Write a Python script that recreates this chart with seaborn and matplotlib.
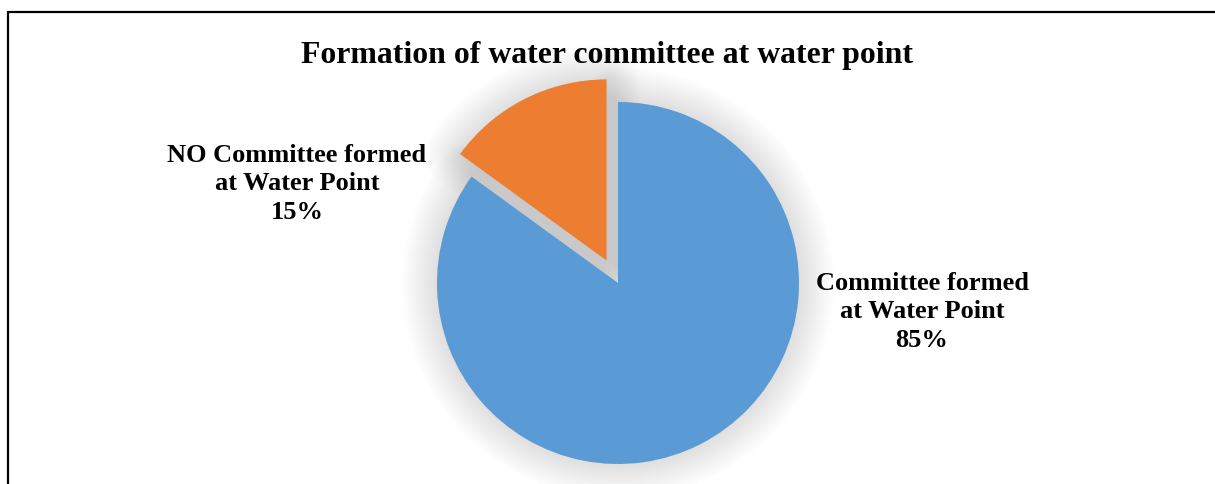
import numpy as np
import matplotlib
matplotlib.use("Agg")
import matplotlib.pyplot as plt
from matplotlib.lines import Line2D
import seaborn as sns

# Chart data
categories = ["Committee formed\nat Water Point", "NO Committee formed\nat Water Point"]
shares = [85, 15]
colors = ["#5B9BD5", "#ED7D31"]
explode = [0.0, 0.14]

sns.set_theme(style="white")
plt.rcParams["font.family"] = ["Liberation Serif", "DejaVu Serif"]

W, H = 1215, 484
fig = plt.figure(figsize=(W / 100, H / 100), dpi=100)
ax = fig.add_axes([0, 0, 1, 1])

# pie geometry in pixels
cx, cy, R = 618, 283, 181

# soft outer glow behind the slices
for lw in np.linspace(50, 2, 16):
    ax.pie(shares, startangle=90, counterclock=False, explode=explode,
           wedgeprops=dict(facecolor="none", edgecolor=(0, 0, 0, 0.008),
                           linewidth=lw, joinstyle="round"))
ax.pie(shares, startangle=90, counterclock=False, explode=explode,
       wedgeprops=dict(facecolor=(0, 0, 0, 0.03), edgecolor="none"))

wedges, _ = ax.pie(shares, startangle=90, counterclock=False, explode=explode,
                   colors=colors, wedgeprops=dict(edgecolor="none"))

ax.set_xlim(-cx / R, (W - cx) / R)
ax.set_ylim(-(H - cy) / R, cy / R)
ax.set_aspect("equal")
ax.axis("off")

def to_data(px, py):
    return (px - cx) / R, (cy - py) / R

label_pos = [(922, 312), (297, 184)]
for cat, val, (px, py) in zip(categories, shares, label_pos):
    x, y = to_data(px, py)
    ax.text(x, y, f"{cat}\n{val}%", ha="center", va="center",
            fontsize=19, fontweight="bold", linespacing=1.32, color="black")

fig.text(607 / W, 1 - 55 / H, "Formation of water committee at water point",
         ha="center", va="center", fontsize=22.9, fontweight="bold", color="black")

# chart frame
fig.add_artist(Line2D([8, W], [H - 12, H - 12], transform=None, color="black", lw=1.6))
fig.add_artist(Line2D([8, 8], [0, H - 12], transform=None, color="black", lw=1.6))

fig.savefig("out.png", dpi=100, facecolor="white")
